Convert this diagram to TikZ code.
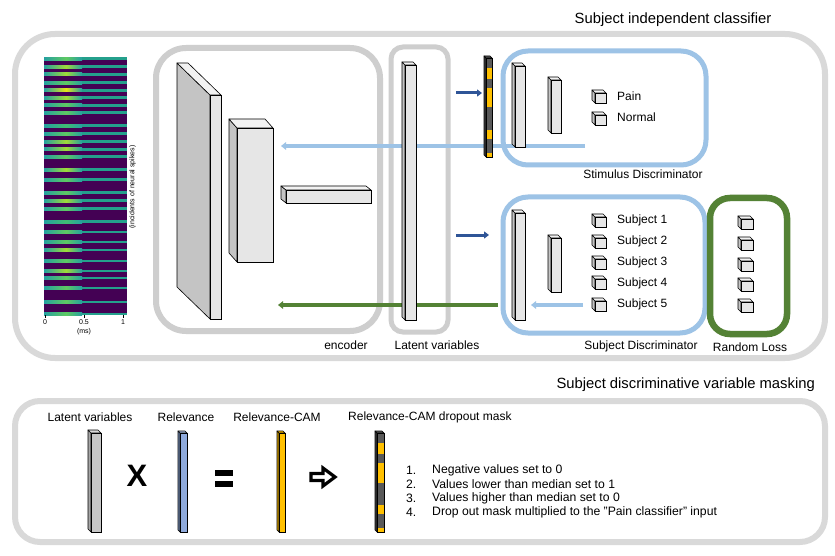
\documentclass[tikz,border=0pt]{standalone}
\usepackage{fontspec}
\setmainfont{Liberation Sans}
\usetikzlibrary{arrows.meta}
\definecolor{boxgray}{HTML}{D9D9D9}
\definecolor{lblue}{HTML}{9DC3E6}
\definecolor{dgreen}{HTML}{548235}
\definecolor{dblue}{HTML}{2F5597}
\definecolor{slabfront}{HTML}{E6E6E6}
\definecolor{slabside}{HTML}{C4C4C4}
\definecolor{slabtop}{HTML}{F2F2F2}
\definecolor{mgold}{HTML}{FFC000}
\definecolor{mdark}{HTML}{595959}
\definecolor{relblue}{HTML}{8FAADC}
\definecolor{hmbg}{HTML}{440154}
\definecolor{hmT}{HTML}{25A0A0}
\definecolor{hmR}{HTML}{24A08C}
\definecolor{hm1}{HTML}{E5E419}
\definecolor{hm2}{HTML}{A0DA39}
\definecolor{hm3}{HTML}{5EC962}
\definecolor{hm4}{HTML}{3FBC73}
% x y w h dx dy front side top
\newcommand{\tzslab}[9]{%
  \filldraw[fill=#8,draw=black,line width=0.6pt,line join=round] (#1,#2) -- ++(-#5,-#6) -- ++(0,#4) -- ++(#5,#6) -- cycle;
  \filldraw[fill=#9,draw=black,line width=0.6pt,line join=round] (#1,#2) -- ++(-#5,-#6) -- ++(#3,0) -- ++(#5,#6) -- cycle;
  \filldraw[fill=#7,draw=black,line width=0.6pt] (#1,#2) rectangle ++(#3,#4);
}
% x y w h d
\newcommand{\tzmask}[5]{%
  \filldraw[fill=mdark!70!black,draw=black,line width=0.6pt,line join=round] (#1,#2) -- ++(-#5,-#5) -- ++(0,#4) -- ++(#5,#5) -- cycle;
  \filldraw[fill=mdark,draw=black,line width=0.6pt,line join=round] (#1,#2) -- ++(-#5,-#5) -- ++(#3,0) -- ++(#5,#5) -- cycle;
  \foreach \a/\b/\c in {0/0.105/mdark,0.105/0.21/mgold,0.21/0.30/mdark,0.30/0.5/mgold,0.5/0.73/mdark,0.73/0.82/mgold,0.82/0.96/mdark,0.96/1/mgold}
    \fill[\c] ({#1},{#2+\a*#4}) rectangle ({#1+#3},{#2+\b*#4});
  \draw[black,line width=0.6pt] (#1,#2) rectangle ++(#3,#4);
}
\tikzset{
  graybox/.style={draw=boxgray,line width=6pt},
  bluebox/.style={draw=lblue,line width=5pt},
  greenbox/.style={draw=dgreen,line width=6.5pt},
  lbl/.style={font=\fontsize{12}{14}\selectfont,inner sep=0pt},
  lst/.style={font=\fontsize{12.2}{14}\selectfont,inner sep=0pt},
  ttl/.style={font=\fontsize{14.8}{17}\selectfont,inner sep=0pt},
  tick/.style={font=\fontsize{7}{8}\selectfont,inner sep=0pt},
  lblarrow/.style={lblue,line width=3.3pt,-{Triangle[length=5pt,width=7.5pt]}},
  grnarrow/.style={dgreen,line width=3.5pt,-{Triangle[length=5pt,width=7.5pt]}},
  dbarrow/.style={dblue,line width=3pt,-{Triangle[length=5pt,width=7pt]}},
}
\begin{document}
\begin{tikzpicture}[x=1pt,y=-1pt]
\useasboundingbox (0,0) rectangle (835,556);
\fill[white] (0,0) rectangle (835,556);

% ---------- titles ----------
\node[ttl] (t1) at (673,20) {Subject independent classifier};
\node[ttl,anchor=east] (t2) at (815,385) {Subject discriminative variable masking};

% ---------- outer boxes ----------
\draw[graybox,rounded corners=40pt] (15,34) rectangle (825,358);
\draw[graybox,draw=boxgray!95!black,rounded corners=30pt] (156,48) rectangle (380,331);
\draw[graybox,line width=5pt,draw=boxgray!95!black,rounded corners=12pt] (391,47) rectangle (448,332);
\draw[bluebox,rounded corners=25pt] (503,51) rectangle (706,165);
\draw[bluebox,rounded corners=25pt] (503,197) rectangle (705,333);
\draw[greenbox,rounded corners=20pt] (710,198) rectangle (787,334);

% ---------- heatmap ----------
\fill[hmbg] (44,57) rectangle (127,315);
\foreach \yy/\cc in {57.5/3,65.5/2,73/2,81.5/3,89/1,96.5/2,104/3,111.5/3,124.5/4,132.5/3,140.5/2,148/2,155.5/3,168.5/2,178.5/3,191.5/3,199.5/2,207.5/3,220.5/4,230.5/3,240.5/3,248.5/2,259.5/3,269.5/2,276.5/3,286.5/3,300.5/3,312.5/3}{
  \shade[left color=hmT,right color=hm\cc] (44,\yy) rectangle (66,\yy+2.6);
  \shade[left color=hm\cc,right color=hmT] (66,\yy) rectangle (82,\yy+2.6);
  \fill[hmR] (82,\yy) rectangle (127,\yy+2.6);
}
\foreach \xx in {45,84,123} \draw[black,line width=0.4pt] (\xx,315) -- (\xx,317.5);
\node[tick] (x0) at (45,322) {0};
\node[tick] (x05) at (84,322) {0.5};
\node[tick] (x1) at (123,322) {1};
\node[tick] (ms) at (84,332) {(ms)};
\node[tick,rotate=90] (ylab) at (132.5,187) {(incidents of neural spikes)};

% ---------- connectors ----------
\coordinate (sA) at (585,146);
\coordinate (sB) at (281,146);
\coordinate (gA) at (498,305);
\coordinate (gB) at (278,305);
\coordinate (pA) at (583,305);
\coordinate (pB) at (531,305);
\coordinate (bA) at (456,93);
\coordinate (bB) at (482,93);
\coordinate (cA) at (456,235);
\coordinate (cB) at (489,235);
\draw[lblarrow] (sA) -- (sB);
\draw[grnarrow] (gA) -- (gB);
\draw[lblarrow] (pA) -- (pB);
\draw[dbarrow] (bA) -- (bB);
\draw[dbarrow] (cA) -- (cB);

% ---------- encoder slabs ----------
\tzslab{210}{95}{11}{224}{33}{32}{slabfront}{slabside}{slabtop}
\tzslab{237}{128}{36}{134}{8}{9}{slabfront}{slabside}{slabtop}
\tzslab{286}{190}{85}{13}{5}{4}{slabfront}{slabside}{slabtop}
% latent
\tzslab{405}{65}{11}{255}{3}{3}{slabfront}{slabside}{slabtop}
% mask (top)
\tzmask{486}{58}{6}{99}{2}
% stimulus bars
\tzslab{515}{66}{10}{81}{3}{3}{slabfront}{slabside}{slabtop}
\tzslab{551}{80}{10}{53}{3}{3}{slabfront}{slabside}{slabtop}
% subject bars
\tzslab{515}{213}{10}{107}{3}{3}{slabfront}{slabside}{slabtop}
\tzslab{551}{238}{10}{54}{3}{3}{slabfront}{slabside}{slabtop}
% cubes
\tzslab{595}{93}{11}{10}{3}{3}{slabfront}{slabside}{slabtop}
\tzslab{595}{115}{11}{10}{3}{3}{slabfront}{slabside}{slabtop}
\foreach \yy in {217,238,259,279,301}{
  \tzslab{595}{\yy}{11}{10}{3}{3}{slabfront}{slabside}{slabtop}
}
\foreach \yy in {219,240,261,281,302}{
  \tzslab{741}{\yy}{12}{10}{3}{3}{slabfront}{slabside}{slabtop}
}

% ---------- top labels ----------
\node[lbl,anchor=west] (pain) at (617,96) {Pain};
\node[lbl,anchor=west] (normal) at (617,117) {Normal};
\node[lbl,anchor=west] (s1) at (617,220) {Subject 1};
\node[lbl,anchor=west] (s2) at (617,241) {Subject 2};
\node[lbl,anchor=west] (s3) at (617,262) {Subject 3};
\node[lbl,anchor=west] (s4) at (617,283) {Subject 4};
\node[lbl,anchor=west] (s5) at (617,304) {Subject 5};
\node[lbl] (enc) at (346,345) {encoder};
\node[lbl] (lat) at (437,345) {Latent variables};
\node[lbl] (stim) at (643,174) {Stimulus Discriminator};
\node[lbl] (subj) at (641,346) {Subject Discriminator};
\node[lbl] (rl) at (750,347) {Random Loss};

% ---------- bottom section ----------
\draw[graybox,rounded corners=25pt] (15,401) rectangle (825,542);
\node[lbl] (bl1) at (90,417) {Latent variables};
\node[lbl] (bl2) at (186,417) {Relevance};
\node[lbl] (bl3) at (277,417) {Relevance-CAM};
\node[lbl,anchor=west] (bl4) at (348,417) {Relevance-CAM dropout mask};

\tzslab{91}{433}{10}{99}{3}{3}{black!22}{black!35}{black!15}
\tzslab{180}{433}{7}{99}{2}{2}{relblue}{relblue!80!black}{relblue!70}
\tzslab{279}{433}{6}{99}{2}{2}{mgold}{mgold!85!black}{mgold}
\tzmask{377}{433}{7}{99}{2}

\node[inner sep=0pt,font=\fontsize{31}{31}\selectfont\bfseries] (times) at (137,476) {X};
\fill[black] (215,470) rectangle (233,475.5);
\fill[black] (215,481) rectangle (233,486.5);
\draw[black,line width=3.2pt,fill=white,line join=miter] (311,473.5) -- (323,473.5) -- (323,468) -- (335,477) -- (323,486) -- (323,480.5) -- (311,480.5) -- cycle;

\foreach \n/\t/\yy/\k in {1./Negative values set to 0/470/1,2./Values lower than median set to 1/484/2,3./Values higher than median set to 0/498/3,4./Drop out mask multiplied to the "Pain classifier" input/512/4}{
  \node[lst,anchor=west] (num\k) at (406,\yy) {\n};
  \node[lst,anchor=west] (item\k) at (432,\yy) {\t};
}
\end{tikzpicture}
\end{document}
